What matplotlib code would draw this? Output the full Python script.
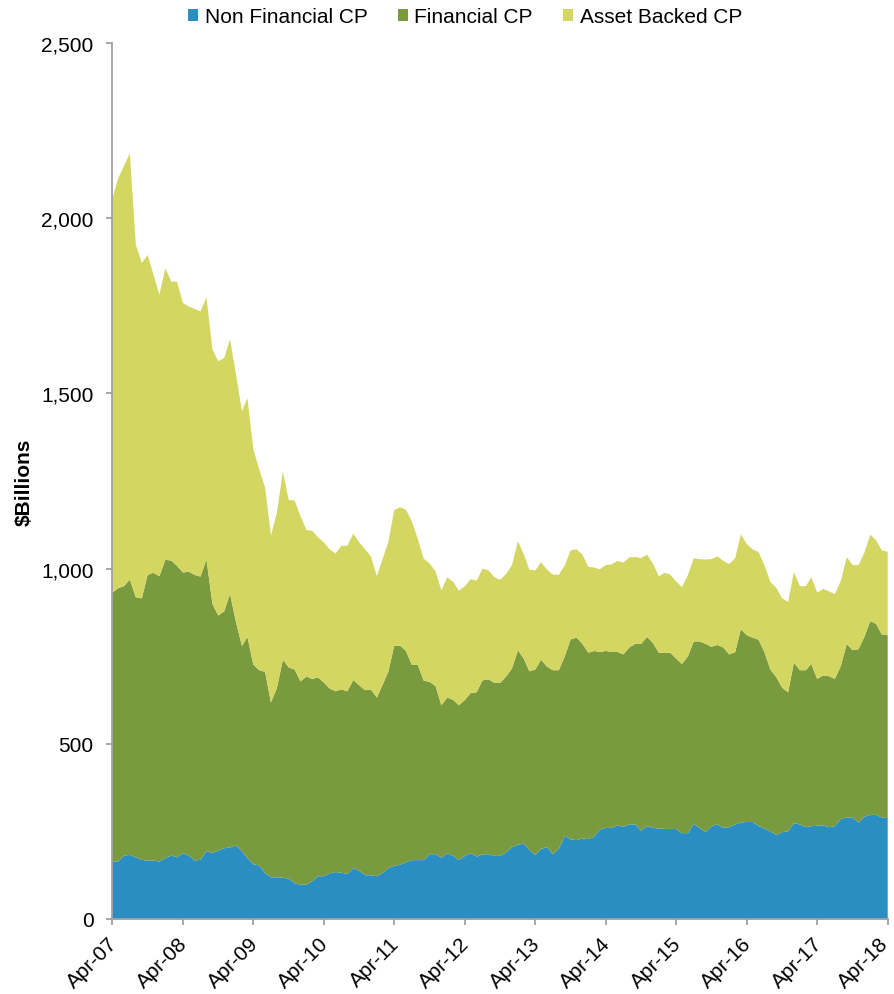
import numpy as np
import pandas as pd
import matplotlib
matplotlib.use("Agg")
import matplotlib.pyplot as plt
import matplotlib.dates as mdates
import matplotlib.transforms as mtransforms
from matplotlib.patches import Patch

plt.rcParams['font.family'] = ['Liberation Sans', 'DejaVu Sans']

# monthly commercial paper outstanding, $ billions, Apr-07 .. Apr-18
months = pd.date_range('2007-04-01', periods=133, freq='MS')

non_financial = [
    164, 164, 181, 183, 176, 169, 166, 167, 164, 174, 181, 176, 188, 181, 167, 169,
    194, 188, 195, 202, 204, 210, 193, 174, 156, 153, 131, 119, 119, 118, 115, 102,
    98, 98, 108, 122, 122, 130, 134, 132, 128, 145, 138, 125, 125, 122, 132, 145,
    152, 155, 162, 168, 168, 168, 185, 185, 175, 187, 180, 168, 180, 188, 178, 184,
    185, 180, 180, 190, 205, 212, 215, 197, 182, 200, 205, 185, 200, 238, 227, 225,
    230, 228, 235, 255, 260, 260, 267, 263, 270, 270, 252, 265, 260, 258, 257, 257,
    257, 245, 245, 272, 259, 248, 265, 270, 260, 262, 270, 275, 277, 277, 265, 258,
    250, 240, 248, 250, 273, 270, 262, 265, 266, 267, 262, 265, 285, 290, 290, 275,
    292, 297, 297, 290, 288,
]

financial = [
    767, 780, 769, 786, 742, 746, 816, 821, 814, 851, 842, 832, 801, 810, 815, 808,
    832, 711, 671, 676, 724, 637, 586, 631, 570, 557, 574, 499, 540, 622, 603, 610,
    580, 594, 577, 568, 553, 528, 516, 523, 522, 537, 529, 528, 530, 510, 538, 560,
    628, 625, 603, 557, 557, 512, 492, 480, 435, 445, 445, 442, 445, 457, 469, 497,
    499, 494, 494, 502, 510, 555, 527, 510, 530, 540, 515, 525, 510, 512, 571, 578,
    555, 532, 530, 507, 505, 502, 495, 492, 505, 515, 533, 540, 528, 502, 503, 503,
    486, 483, 505, 520, 533, 537, 512, 512, 515, 493, 492, 552, 533, 526, 532, 504,
    462, 450, 412, 397, 459, 440, 448, 463, 419, 428, 431, 420, 437, 495, 477, 495,
    513, 553, 545, 522, 522,
]

asset_backed = [
    1125, 1169, 1200, 1216, 1006, 957, 913, 850, 803, 832, 796, 811, 769, 757, 759, 757,
    748, 726, 726, 723, 727, 707, 670, 682, 614, 574, 526, 476, 501, 537, 478, 482,
    472, 418, 423, 400, 400, 397, 393, 410, 415, 418, 408, 402, 380, 346, 360, 370,
    387, 395, 403, 410, 360, 348, 338, 327, 328, 343, 337, 327, 325, 325, 318, 319,
    311, 301, 294, 293, 295, 311, 298, 290, 283, 278, 277, 273, 272, 260, 254, 252,
    255, 245, 238, 236, 245, 250, 260, 262, 257, 248, 245, 235, 227, 218, 228, 223,
    220, 219, 232, 238, 235, 241, 250, 253, 247, 258, 268, 271, 260, 252, 250, 248,
    250, 255, 255, 258, 258, 240, 240, 247, 247, 247, 242, 242, 243, 248, 243, 240,
    240, 247, 238, 240, 238,
]

labels = ['Non Financial CP', 'Financial CP', 'Asset Backed CP']
colors = ['#2a8ec2', '#7a9a40', '#d4d662']

fig = plt.figure(figsize=(8.94, 9.95), dpi=100)
ax = fig.add_axes([112.3 / 894, 1 - 920 / 995, (887.7 - 112.3) / 894, 876 / 995])

ax.stackplot(months, non_financial, financial, asset_backed,
             colors=colors, linewidth=0)

ax.set_xlim(months[0], months[-1])
ax.set_ylim(0, 2500)
ax.set_yticks(np.arange(0, 2501, 500))
ax.yaxis.set_major_formatter(matplotlib.ticker.FuncFormatter(lambda v, p: f'{v:,.0f}'))

ax.xaxis.set_major_locator(mdates.MonthLocator(bymonth=4))
ax.xaxis.set_major_formatter(mdates.DateFormatter('%b-%y'))

for s in ['top', 'right']:
    ax.spines[s].set_visible(False)
for s in ['left', 'bottom']:
    ax.spines[s].set_color('#a0a0a0')
    ax.spines[s].set_linewidth(1.3)

ax.tick_params(axis='both', colors='#a0a0a0', width=1.3, length=4.5,
               labelcolor='black', labelsize=15)
ax.tick_params(axis='y', pad=9)
ax.tick_params(axis='x', pad=6)
xlabels = ax.get_xticklabels()
for i, lab in enumerate(xlabels):
    dx = -5 if i < len(xlabels) - 1 else -9
    shift = mtransforms.ScaledTranslation(dx / 100, 0, fig.dpi_scale_trans)
    lab.set_rotation(45)
    lab.set_ha('right')
    lab.set_va('top')
    lab.set_rotation_mode('anchor')
    lab.set_transform(lab.get_transform() + shift)

ax.set_ylabel('$Billions', fontsize=15, fontweight='bold', labelpad=5)

handles = [Patch(facecolor=c, edgecolor='none') for c in colors]
fig.legend(handles, labels, loc='center', bbox_to_anchor=(465 / 894, 1 - 17.5 / 995),
           ncol=3, frameon=False, fontsize=15, handlelength=0.5, handleheight=0.5,
           handletextpad=0.3, columnspacing=1.45, borderpad=0)

fig.savefig('out.png', dpi=100)
